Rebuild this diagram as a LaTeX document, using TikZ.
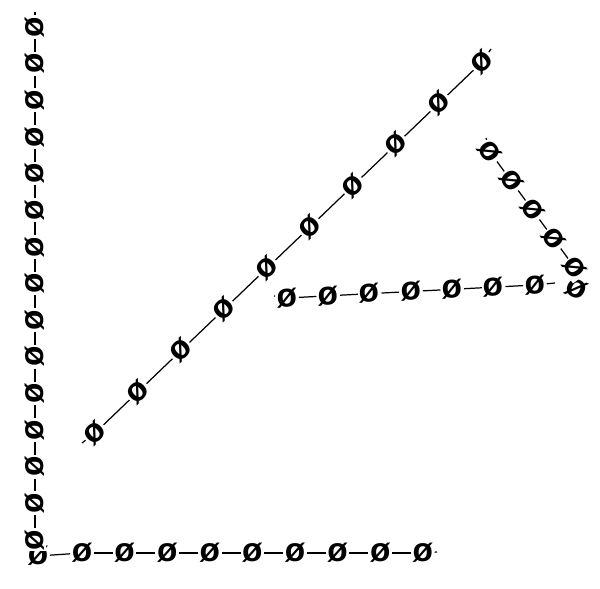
\documentclass[tikz,border=0pt]{standalone}
\usepackage{fontspec}
\setmainfont{Liberation Sans}
\tikzset{glyph/.style={fill=white,inner sep=0.6pt,font=\bfseries\fontsize{19}{19}\selectfont}}

\begin{document}
\begin{tikzpicture}[x=0.02cm,y=-0.02cm,line width=0.7pt]
      \useasboundingbox (0,0) rectangle (600,589);

      % corner pieces, half hidden by their neighbours
      \node[glyph] (c1) at (38,556) {ø};
      \node[glyph,rotate=-25] (c2) at (576,289) {ø};

      % left column
      \foreach \i in {0,...,14}
        \node[glyph,rotate=90] (v\i) at (35,{27+36.64*\i}) {ø};
      \coordinate (vtop) at (35,12);
      \draw (vtop) -- (v0);
      \foreach \i [count=\j] in {0,...,13}
        \draw (v\i) -- (v\j);

      % bottom row
      \foreach \i in {0,...,8}
        \node[glyph] (b\i) at ({82+42.6*\i},553) {ø};
      \draw (c1) -- (b0);
      \foreach \i [count=\j] in {0,...,7}
        \draw (b\i) -- (b\j);
      \coordinate (bend) at (437,552);
      \draw (b8) -- (bend);

      % long diagonal
      \foreach \i in {0,...,9}
        \node[glyph,rotate=43.8] (d\i) at ({95+43*\i},{433-41.22*\i}) {ø};
      \coordinate (dstart) at (82,443);
      \coordinate (dend) at (491,49);
      \draw (dstart) -- (d0);
      \foreach \i [count=\j] in {0,...,8}
        \draw (d\i) -- (d\j);
      \draw (d9) -- (dend);

      % steep short line
      \foreach \i in {0,...,4}
        \node[glyph,rotate=-53.8] (s\i) at ({490+21.25*\i},{152+29*\i}) {ø};
      \coordinate (sstart) at (486,138);
      \draw (sstart) -- (s0);
      \foreach \i [count=\j] in {0,...,3}
        \draw (s\i) -- (s\j);

      % nearly flat line
      \foreach \i in {0,...,6}
        \node[glyph,rotate=3] (h\i) at ({287+41.33*\i},{298-2.17*\i}) {ø};
      \coordinate (hstart) at (274,296);
      \coordinate (hend) at (555,283);
      \draw (hstart) -- (h0);
      \foreach \i [count=\j] in {0,...,5}
        \draw (h\i) -- (h\j);
      \draw (h6) -- (hend);
    \end{tikzpicture}
\end{document}
